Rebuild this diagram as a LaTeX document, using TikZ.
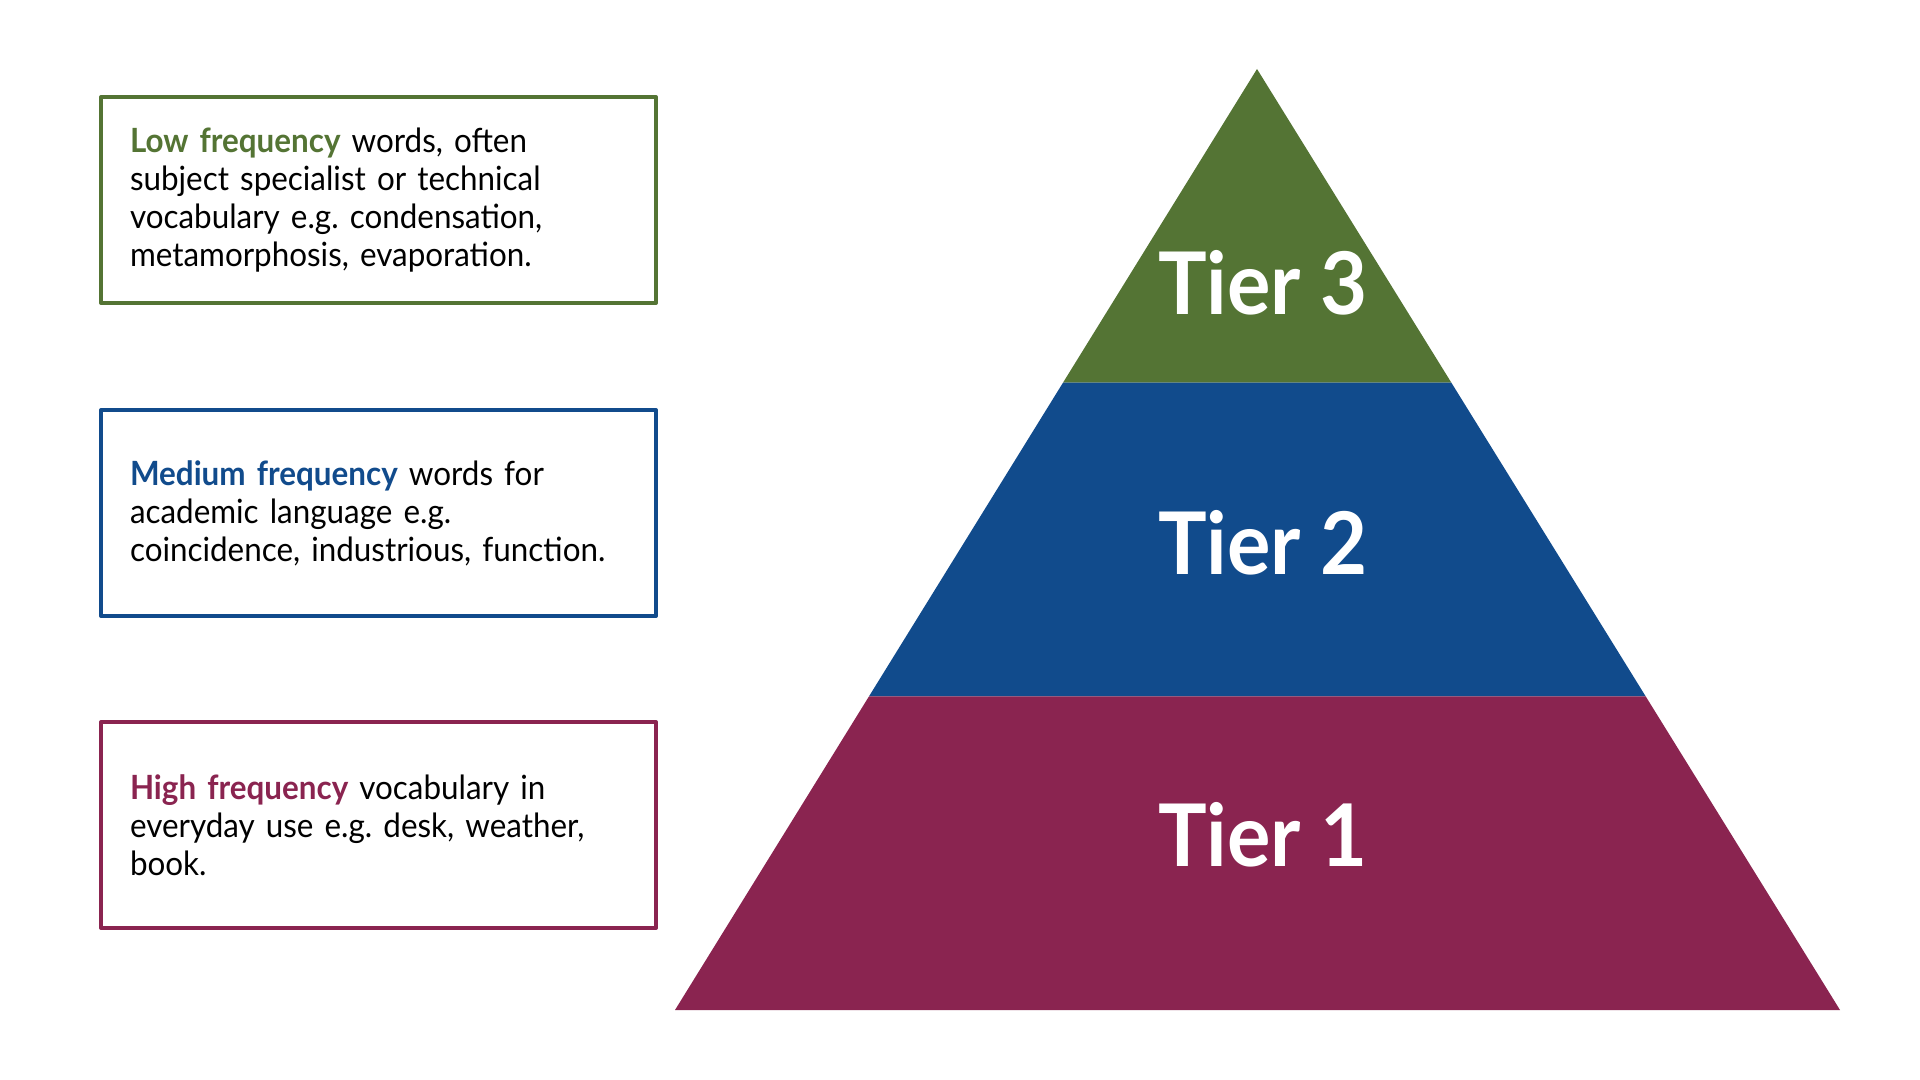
\documentclass[tikz,border=0pt]{standalone}
\usepackage{fontspec}
\setmainfont{Lato}[FakeStretch=0.94]
\usepackage{tikz}
\usetikzlibrary{positioning,calc}
\definecolor{tierGreen}{RGB}{84,116,52}
\definecolor{tierBlue}{RGB}{17,75,140}
\definecolor{tierRed}{RGB}{138,36,80}
\frenchspacing
\hyphenpenalty=10000
\tikzset{
    base/.style={font=\fontsize{9.5pt}{10.8pt}\selectfont, align=left},
    note/.style={base, rectangle, draw=#1, line width=0.04cm, fill=white,
                 text width=4.97cm, inner xsep=0.29cm, inner ysep=0pt,
                 minimum height=2.06cm},
    tier/.style={font=\fontsize{24.6pt}{28pt}\selectfont\bfseries, text=white,
                 anchor=base, inner sep=0pt}
}
\begin{document}
\begin{tikzpicture}[line join=round]
    \useasboundingbox (0,0) rectangle (19.2,-10.8);

    % Pyramid corners
    \coordinate (top) at (12.57,-0.69);
    \coordinate (bl) at (6.75,-10.10);
    \coordinate (br) at (18.40,-10.10);
    \coordinate (l1) at ($(top)!1/3!(bl)$);
    \coordinate (r1) at ($(top)!1/3!(br)$);
    \coordinate (l2) at ($(top)!2/3!(bl)$);
    \coordinate (r2) at ($(top)!2/3!(br)$);

    % Bands
    \fill[tierGreen] (top) -- (r1) -- (l1) -- cycle;
    \fill[tierBlue] (l1) -- (r1) -- (r2) -- (l2) -- cycle;
    \fill[tierRed] (l2) -- (r2) -- (br) -- (bl) -- cycle;

    % Band labels
    \node[tier] (t3) at (12.63,-3.15) {Tier 3};
    \node[tier] (t2) at (12.63,-5.74) {Tier 2};
    \node[tier] (t1) at (12.63,-8.66) {Tier 1};

    % Descriptions
    \node[note=tierGreen, anchor=north west] (low) at (0.99,-0.95) {
        \textcolor{tierGreen}{\textbf{Low frequency}} words, often\\
        subject specialist or technical\\
        vocabulary e.g. condensation,\\
        metamorphosis, evaporation.
    };
    \node[note=tierBlue, below=1.03cm of low] (medium) {
        \textcolor{tierBlue}{\textbf{Medium frequency}} words for\\
        academic language e.g.\\
        coincidence, industrious, function.
    };
    \node[note=tierRed, below=1.02cm of medium] (high) {
        \textcolor{tierRed}{\textbf{High frequency}} vocabulary in\\
        everyday use e.g. desk, weather,\\
        book.
    };
\end{tikzpicture}
\end{document}
